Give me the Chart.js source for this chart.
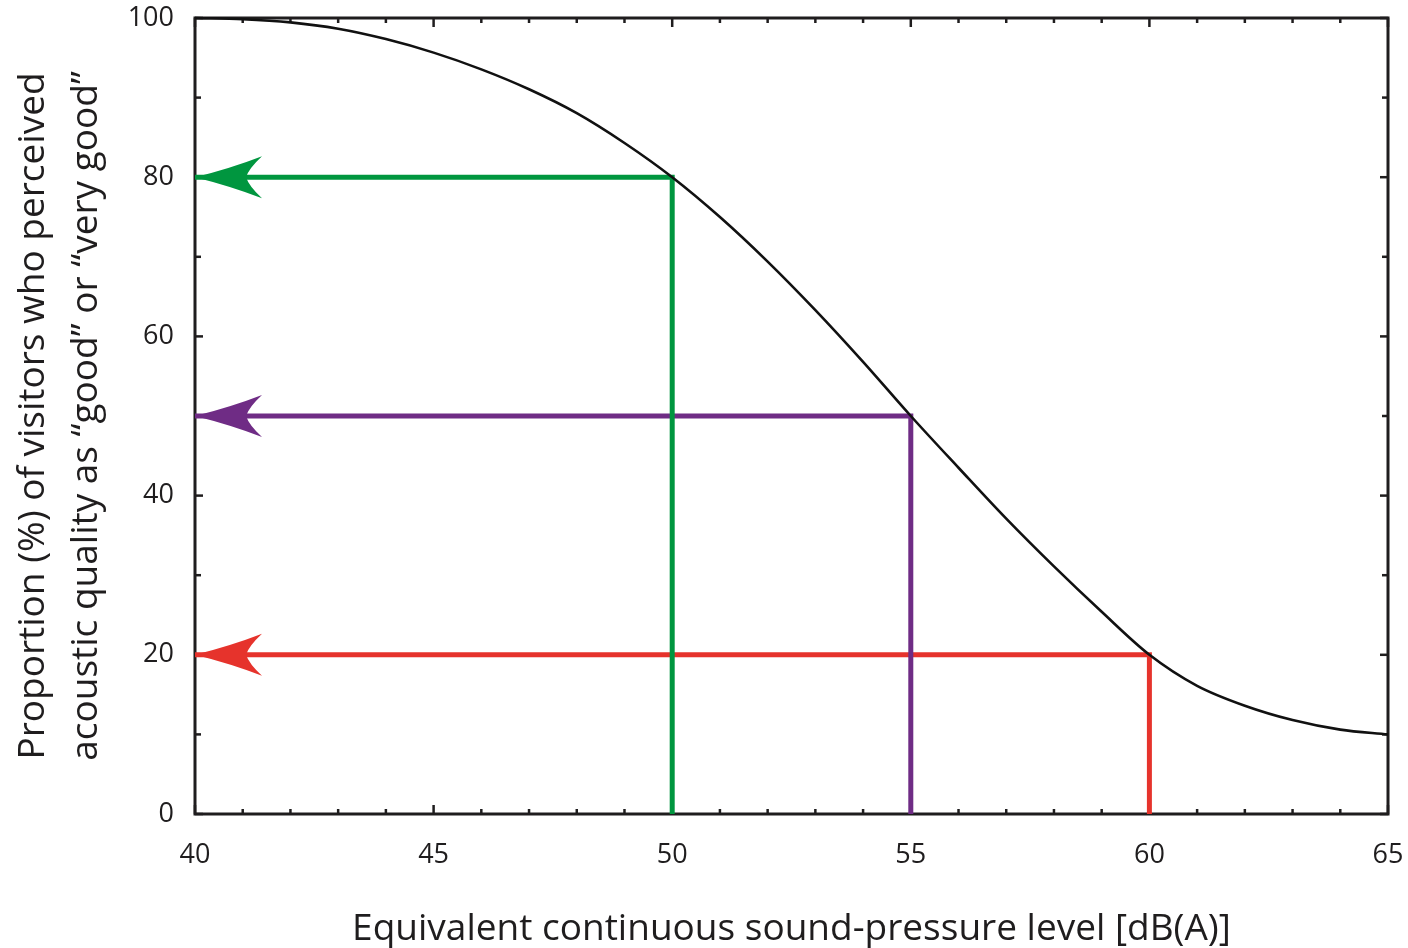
<!DOCTYPE html>
<html>
<head>
<meta charset="utf-8">
<script src="https://cdn.jsdelivr.net/npm/chart.js@4.4.1/dist/chart.umd.min.js"></script>
<style>
  html, body { margin: 0; padding: 0; background: #fff; }
  #wrap { width: 1408px; height: 948px; position: relative; }
</style>
</head>
<body>
<div id="wrap"><canvas id="myChart"></canvas></div>
<script>
// sound level (dB(A)) and share of visitors rating acoustics "good"/"very good" (%)
var soundLevels = [40, 41, 42, 43, 44, 45, 46, 47, 48, 49, 50, 51, 52, 53, 54, 55, 56, 57, 58, 59, 60, 61, 62, 63, 64, 65];
var goodShare   = [100, 99.85, 99.45, 98.65, 97.35, 95.65, 93.55, 91.05, 88.05, 84.3, 80, 75, 69.4, 63.3, 56.8, 50, 43.5, 37.1, 31.1, 25.4, 20, 16.1, 13.6, 11.8, 10.6, 10];

// reading guides (arrows)
var guideLevels = [50, 55, 60];
var guideShares = [80, 50, 20];
var guideColors = ['#00963f', '#6f2c85', '#e6332c'];

var xTicks = [40, 45, 50, 55, 60, 65];
var yTicks = [0, 20, 40, 60, 80, 100];

var xTitle = 'Equivalent continuous sound-pressure level [dB(A)]';
var yTitle = ['Proportion (%) of visitors who perceived', 'acoustic quality as \u201cgood\u201d or \u201cvery good\u201d'];

var FONT = '"Open Sans", "Noto Sans", sans-serif';
var INK = '#1f1d1e';

var datasets = [{
    data: soundLevels.map(function (v, i) { return {x: v, y: goodShare[i]}; }),
    borderColor: '#111',
    borderWidth: 2.6,
    pointRadius: 0,
    cubicInterpolationMode: 'monotone',
    clip: false,
    order: 0
}];
guideLevels.forEach(function (lvl, i) {
    datasets.push({
        data: [{x: 40, y: guideShares[i]}, {x: lvl, y: guideShares[i]}, {x: lvl, y: 0}],
        borderColor: guideColors[i],
        borderWidth: 5,
        pointRadius: 0,
        tension: 0,
        clip: false,
        order: i + 1
    });
});

function seg(ctx, x1, y1, x2, y2) {
    ctx.beginPath(); ctx.moveTo(x1, y1); ctx.lineTo(x2, y2); ctx.stroke();
}

var decor = {
    id: 'decor',
    beforeDatasetsDraw: function (chart) {
        var ctx = chart.ctx, a = chart.chartArea, x = chart.scales.x, y = chart.scales.y;
        ctx.save();
        ctx.strokeStyle = INK;
        ctx.lineWidth = 2.5;
        for (var v = x.min; v <= x.max; v++) {
            var px = x.getPixelForValue(v), len = v % 5 === 0 ? 9 : 5;
            seg(ctx, px, a.bottom, px, a.bottom - len);
            seg(ctx, px, a.top, px, a.top + len);
        }
        for (var w = y.min; w <= y.max; w += 10) {
            var py = y.getPixelForValue(w), l2 = w % 20 === 0 ? 8 : 6;
            seg(ctx, a.left, py, a.left + l2, py);
            seg(ctx, a.right, py, a.right - l2, py);
        }
        ctx.lineWidth = 3;
        ctx.strokeRect(a.left, a.top, a.right - a.left, a.bottom - a.top);
        ctx.restore();
    },
    afterDatasetsDraw: function (chart) {
        var ctx = chart.ctx;
        for (var i = 1; i < chart.data.datasets.length; i++) {
            var p = chart.getDatasetMeta(i).data[0];
            var tx = p.x, ty = p.y;
            ctx.save();
            ctx.fillStyle = chart.data.datasets[i].borderColor;
            ctx.beginPath();
            ctx.moveTo(tx, ty);
            ctx.quadraticCurveTo(tx + 36, ty - 9, tx + 67, ty - 21);
            ctx.quadraticCurveTo(tx + 54, ty - 9, tx + 51, ty);
            ctx.quadraticCurveTo(tx + 54, ty + 9, tx + 67, ty + 21);
            ctx.quadraticCurveTo(tx + 36, ty + 9, tx, ty);
            ctx.closePath();
            ctx.fill();
            ctx.restore();
        }
    },
    afterDraw: function (chart) {
        var ctx = chart.ctx, a = chart.chartArea;
        ctx.save();
        ctx.fillStyle = INK;
        ctx.font = '37px ' + FONT;
        ctx.textAlign = 'center';
        ctx.textBaseline = 'alphabetic';
        ctx.fillText(xTitle, (a.left + a.right) / 2, 940);
        ctx.translate(0, (a.top + a.bottom) / 2);
        ctx.rotate(-Math.PI / 2);
        ctx.fillText(yTitle[0], 0, 44);
        ctx.fillText(yTitle[1], 0, 97);
        ctx.restore();
    }
};

var ctx = document.getElementById('myChart').getContext('2d');
var chart = new Chart(ctx, {
    type: 'line',
    data: { datasets: datasets },
    options: {
        responsive: true,
        maintainAspectRatio: false,
        animation: false,
        events: [],
        layout: { padding: { top: 18, right: 20, left: 0, bottom: 0 } },
        plugins: { legend: { display: false }, tooltip: { enabled: false } },
        scales: {
            x: {
                type: 'linear', min: 40, max: 65,
                afterBuildTicks: function (s) { s.ticks = xTicks.map(function (v) { return {value: v}; }); },
                afterFit: function (s) { s.height = 134; s.paddingLeft = 0; s.paddingRight = 0; },
                grid: { display: false },
                border: { display: false },
                ticks: { color: INK, font: { family: FONT, size: 27 }, padding: 17, maxRotation: 0 }
            },
            y: {
                type: 'linear', min: 0, max: 100,
                afterBuildTicks: function (s) { s.ticks = yTicks.map(function (v) { return {value: v}; }); },
                afterFit: function (s) { s.width = 195; s.paddingTop = 0; s.paddingBottom = 0; },
                grid: { display: false },
                border: { display: false },
                ticks: { color: INK, font: { family: FONT, size: 27 }, padding: 13 }
            }
        }
    },
    plugins: [decor]
});
</script>
</body>
</html>
